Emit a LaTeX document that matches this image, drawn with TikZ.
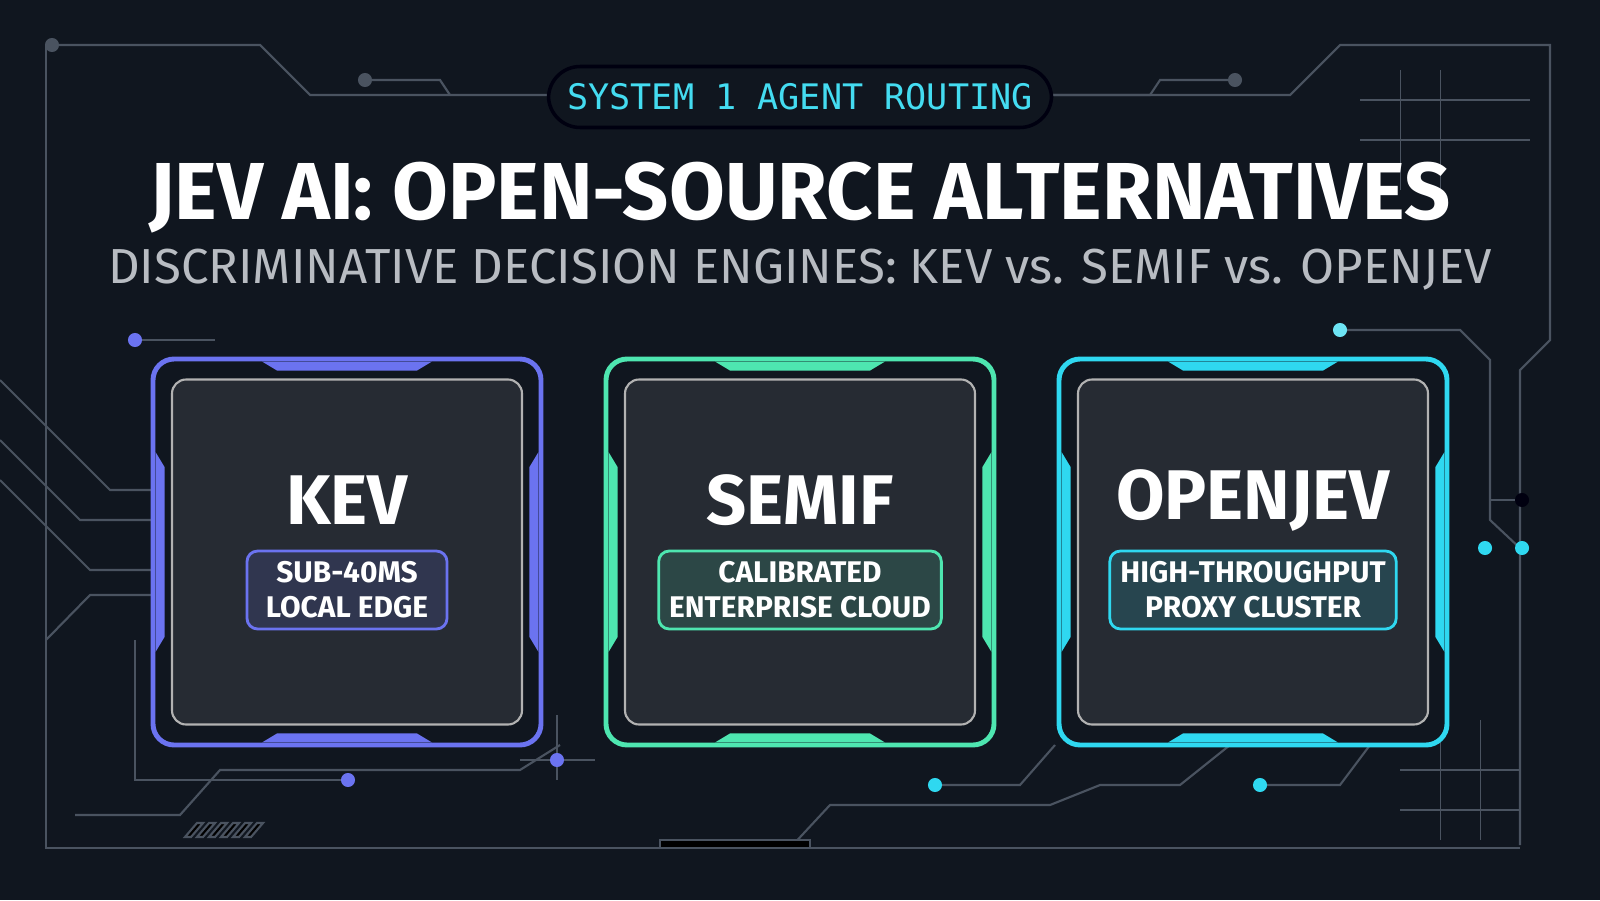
\documentclass[tikz,border=0pt]{standalone}
\usepackage{fontspec}
\setmainfont{Fira Sans}
\newfontfamily\monofont{DejaVu Sans Mono}
\usetikzlibrary{positioning,calc}
\definecolor{bgdark}{HTML}{10161F}
\definecolor{wire}{HTML}{4A5360}
\definecolor{kevblue}{HTML}{6B73F0}
\definecolor{semgreen}{HTML}{4EE6B0}
\definecolor{jevcyan}{HTML}{2FD8F0}
\definecolor{cardfill}{HTML}{262B33}
\definecolor{subgray}{HTML}{B8BCC2}

\tikzset{
  wire/.style={draw=wire, line width=0.6pt},
  pin/.style={circle, inner sep=0pt, minimum size=4pt, fill=#1},
  card/.style={draw=#1, line width=1.4pt, rounded corners=6pt, fill=bgdark,
    minimum width=3.88cm, minimum height=3.86cm},
  inner card/.style={draw=gray!60, line width=0.6pt, rounded corners=4pt, fill=cardfill,
    minimum width=3.5cm, minimum height=3.45cm},
  tag/.style={draw=#1, line width=0.8pt, rounded corners=3pt, fill=#1!15!cardfill,
    align=center, text=white!85, font=\fontsize{8.5}{10}\selectfont\bfseries, inner sep=3pt},
  cardtitle/.style={text=white, font=\fontsize{20}{22}\selectfont\bfseries}
}

\begin{document}
\begin{tikzpicture}
\fill[bgdark] (0,0) rectangle (16,9);
\useasboundingbox (0,0) rectangle (16,9);

% circuit traces
\draw[wire] (0.52,8.55) -- (2.6,8.55) -- (3.1,8.05) -- (5.5,8.05);
\draw[wire] (3.65,8.2) -- (4.4,8.2) -- (4.5,8.05);
\draw[wire] (10.5,8.05) -- (11.5,8.05) -- (11.6,8.2) -- (12.35,8.2);
\draw[wire] (10.5,8.05) -- (12.9,8.05) -- (13.4,8.55) -- (15.5,8.55) -- (15.5,5.6) -- (15.2,5.3) -- (15.2,0.55);
\draw[wire] (0.46,8.55) -- (0.46,0.52) -- (15.2,0.52);
\draw[wire] (0,5.2) -- (1.1,4.1) -- (1.53,4.1);
\draw[wire] (0,4.6) -- (0.8,3.8) -- (1.53,3.8);
\draw[wire] (0,4.2) -- (0.9,3.3) -- (1.53,3.3);
\draw[wire] (0.46,2.6) -- (0.9,3.05) -- (1.53,3.05);
\draw[wire] (1.35,5.6) -- (2.15,5.6);
\draw[wire] (1.35,2.6) -- (1.35,1.2) -- (3.48,1.2);
\draw[wire] (0.75,0.85) -- (1.8,0.85) -- (2.2,1.3) -- (5.2,1.3) -- (5.6,1.55);
\draw[wire] (5.57,1.85) -- (5.57,1.2);
\draw[wire] (5.2,1.4) -- (5.95,1.4);
\draw[wire] (7.9,0.52) -- (8.3,0.95) -- (10.5,0.95) -- (11.0,1.15) -- (11.8,1.15) -- (12.3,1.55);
\draw[wire] (9.35,1.15) -- (10.2,1.15) -- (10.55,1.55);
\draw[wire] (12.6,1.15) -- (13.4,1.15) -- (13.7,1.55);
\draw[wire] (13.4,5.7) -- (14.6,5.7) -- (14.9,5.4) -- (14.9,3.8) -- (15.22,3.5);
\draw[wire] (14.9,4.0) -- (15.2,4.0);
\draw[wire, line width=0.3pt] (13.6,7.6) -- (15.3,7.6) (13.6,8.0) -- (15.3,8.0) (14.0,7.1) -- (14.0,8.3) (14.4,7.1) -- (14.4,8.3);
\draw[wire, line width=0.3pt] (14.0,0.9) -- (15.2,0.9) (14.0,1.3) -- (15.2,1.3) (14.4,0.6) -- (14.4,1.8) (14.8,0.6) -- (14.8,1.8);
\fill[wire] (6.6,0.52) rectangle (8.1,0.6);
\foreach \k in {0,...,5}
  \fill[wire] (1.85+0.12*\k,0.63) -- ++(0.06,0) -- ++(0.12,0.14) -- ++(-0.06,0) -- cycle;

% pins
\node[pin=wire] (p1) at (0.52,8.55) {};
\node[pin=wire] (p2) at (3.65,8.2) {};
\node[pin=wire] (p3) at (12.35,8.2) {};
\node[pin=kevblue] (p4) at (1.35,5.6) {};
\node[pin=kevblue] (p5) at (3.48,1.2) {};
\node[pin=kevblue] (p6) at (5.57,1.4) {};
\node[pin=jevcyan] (p7) at (9.35,1.15) {};
\node[pin=jevcyan] (p8) at (12.6,1.15) {};
\node[pin=jevcyan!70!white] (p9) at (13.4,5.7) {};
\node[pin=wire!150] (p10) at (15.22,4.0) {};
\node[pin=jevcyan] (p11) at (14.85,3.52) {};
\node[pin=jevcyan] (p12) at (15.22,3.52) {};

% header
\node[draw=wire!150, line width=1pt, rounded corners=9pt, fill=bgdark, minimum width=5.03cm,
  minimum height=0.61cm, text=jevcyan!90!white, font=\monofont\fontsize{10}{12}\selectfont]
  (badge) at (8,8.03) {SYSTEM 1 AGENT ROUTING};
\node[text=white, font=\fontsize{23}{26}\selectfont\bfseries] (title) at (8,7.02)
  {JEV AI: OPEN-SOURCE ALTERNATIVES};
\node[text=subgray, font=\fontsize{14}{16}\selectfont] (subtitle) at (8,6.3)
  {DISCRIMINATIVE DECISION ENGINES: KEV vs. SEMIF vs. OPENJEV};

% cards
\foreach \name/\x/\col/\cardname/\tagtext in {
    kev/3.47/kevblue/KEV/{SUB-40MS\\LOCAL EDGE},
    semif/8.0/semgreen/SEMIF/{CALIBRATED\\ENTERPRISE CLOUD},
    openjev/12.53/jevcyan/OPENJEV/{HIGH-THROUGHPUT\\PROXY CLUSTER}} {
  \node[card=\col] (\name) at (\x,3.48) {};
  \fill[\col] ($(\name.north)+(-0.85,-0.05)$) -- ($(\name.north)+(0.85,-0.05)$) -- ($(\name.north)+(0.7,-0.14)$) -- ($(\name.north)+(-0.7,-0.14)$) -- cycle;
  \fill[\col] ($(\name.south)+(-0.85,0.05)$) -- ($(\name.south)+(0.85,0.05)$) -- ($(\name.south)+(0.7,0.14)$) -- ($(\name.south)+(-0.7,0.14)$) -- cycle;
  \fill[\col] ($(\name.west)+(0.05,1.0)$) -- ($(\name.west)+(0.05,-1.0)$) -- ($(\name.west)+(0.14,-0.85)$) -- ($(\name.west)+(0.14,0.85)$) -- cycle;
  \fill[\col] ($(\name.east)+(-0.05,1.0)$) -- ($(\name.east)+(-0.05,-1.0)$) -- ($(\name.east)+(-0.14,-0.85)$) -- ($(\name.east)+(-0.14,0.85)$) -- cycle;
  \node[inner card] (\name inner) at (\name) {};
  \node[cardtitle] (\name title) at (\x,4.0) {\cardname};
  \node[tag=\col, minimum width=2.0cm] (\name tag) at (\x,3.1) {\tagtext};
}
\end{tikzpicture}
\end{document}
